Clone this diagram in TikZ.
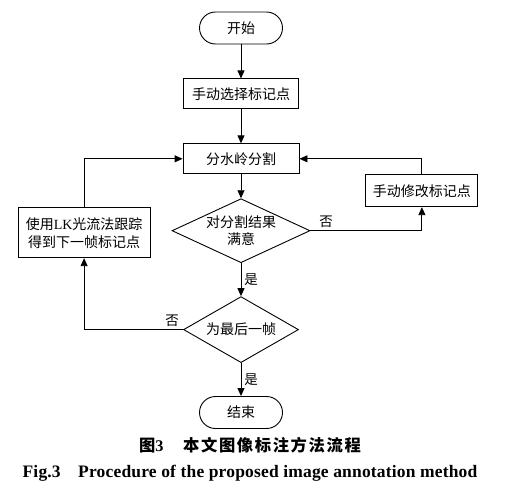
\documentclass[tikz,border=0pt]{standalone}
\usepackage{fontspec}
\setmainfont{Liberation Serif}
\newfontfamily\cjk{Noto Sans CJK SC}
\usetikzlibrary{arrows.meta, positioning, shapes.geometric}

\begin{document}
\begin{tikzpicture}[
    >={Triangle[length=8pt,width=7pt]}, line width=0.9pt,
    box/.style={rectangle, draw, minimum height=30pt, minimum width=#1,
                align=center, inner sep=2pt, font=\cjk\fontsize{14}{18}\selectfont},
    box/.default=115pt,
    term/.style={box=83pt, minimum height=32pt, rounded corners=16pt},
    cond/.style={diamond, draw, inner sep=0pt, align=center, shape aspect=#1,
                 font=\cjk\fontsize{14}{17}\selectfont},
    lbl/.style={font=\cjk\fontsize{13.5}{16}\selectfont, inner sep=3pt},
    arr/.style={->},
]
\useasboundingbox (0,0) rectangle (511pt,-498pt);
\node[term] (start) at (241pt,-28pt) {开始};
\node[box, below=34pt of start] (select) {手动选择标记点};
\node[box=116pt, below=34pt of select] (seg) {分水岭分割};
\node[cond=2.16, minimum width=138pt, minimum height=64pt, below=24pt of seg] (judge) {对分割结果\\满意};
\node[cond=1.74, minimum width=115pt, minimum height=66pt, below=33pt of judge] (last) {为最后一帧};
\node[term, below=33pt of last] (stop) {结束};
\node[box=112pt, minimum height=32pt, right=55pt of judge, yshift=40pt] (modify) {手动修改标记点};
\node[box=132pt, minimum height=50pt, left=21pt of judge, yshift=-2pt] (track) {使用{\rmfamily LK}光流法跟踪\\得到下一帧标记点};

% caption
\node[font=\cjk\bfseries\fontsize{16.3}{19}\selectfont] (cap) at (250pt,-445pt)
    {图{\rmfamily 3}\hspace{1.2em}{\addfontfeatures{LetterSpace=10}本文图像标注方法流程}};
\node[font=\bfseries\fontsize{17.5}{20}\selectfont] (capen) at (250pt,-473pt)
    {\addfontfeatures{LetterSpace=1}Fig.3\hspace{1em}Procedure of the proposed image annotation method};

\draw[arr] (start) -- (select);
\draw[arr] (select) -- (seg);
\draw[arr] (seg) -- (judge);
\draw[arr] (judge) -- node[lbl, right]{是} (last);
\draw[arr] (last) -- node[lbl, right]{是} (stop);
\draw[arr] (judge.east) -| node[lbl, pos=0.07, above]{否} (modify.south);
\draw[arr] (modify.north) |- (seg.east);
\draw[arr] (last.west) -| node[lbl, pos=0.055, above]{否} (track.south);
\draw[arr] (track.north) |- (seg.west);
\end{tikzpicture}
\end{document}
